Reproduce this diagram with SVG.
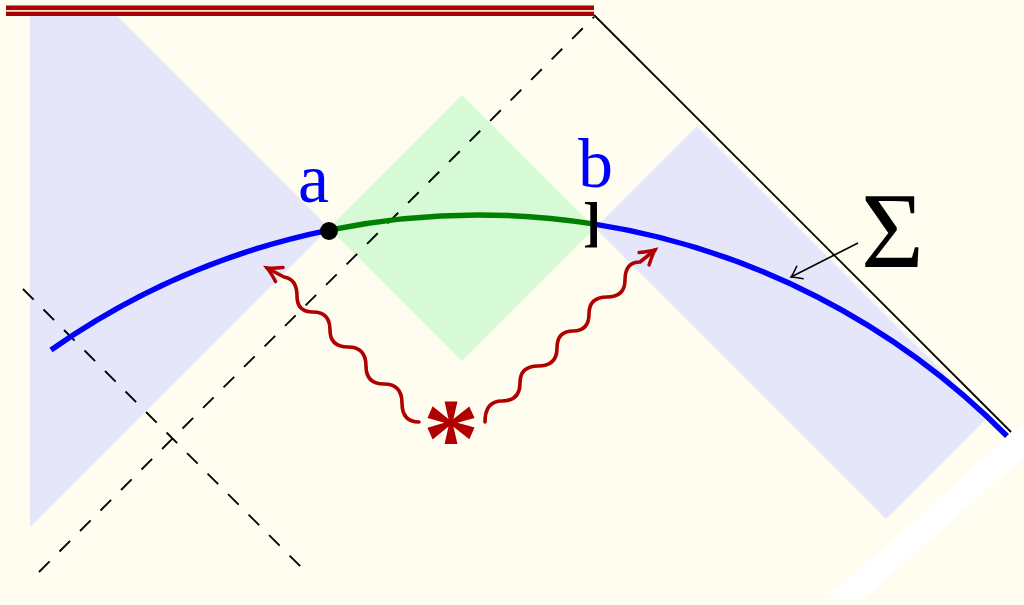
<svg xmlns="http://www.w3.org/2000/svg" width="1024" height="605" viewBox="0 0 1024 605">
<defs>
<style>
.bg{fill:#fffdf0}
.reg-blue{fill:#e6e6fa}
.reg-green{fill:#d6fad6}
.dash{stroke:#000;stroke-width:1.9;stroke-dasharray:15 14;fill:none}
.snake{fill:none;stroke:#b00000;stroke-width:3.6;stroke-linecap:round;stroke-linejoin:round}
.lbl{font-family:"Liberation Serif","Times New Roman",serif}
</style>
<marker id="redhead" markerUnits="userSpaceOnUse" markerWidth="30" markerHeight="30" viewBox="-20 -15 30 30" refX="0" refY="0" orient="auto">
<path d="M -14 -8 Q -5 -2 0 0 Q -5 2 -14 8" fill="none" stroke="#b00000" stroke-width="3.4" stroke-linecap="round"/>
</marker>
<marker id="blackhead" markerUnits="userSpaceOnUse" markerWidth="24" markerHeight="24" viewBox="-16 -12 24 24" refX="0" refY="0" orient="auto">
<path d="M -10 -7 Q -3 -1.5 0 0 Q -3 1.5 -10 7" fill="none" stroke="#000" stroke-width="1.6" stroke-linecap="round"/>
</marker>
</defs>
<rect class="bg" x="0" y="0" width="1024" height="605"/>
<g id="white-stripe"><polygon points="826,599 863,599 1024,457 1024,423" fill="#ffffff"/></g>
<g id="region-left"><polygon class="reg-blue" points="30,16 117,16 329,228 30,527"/></g>
<g id="region-right"><polygon class="reg-blue" points="595,228 697,126 988,417 886,519"/></g>
<g id="region-green"><polygon class="reg-green" points="329,228 462,95 595,228 462,361"/></g>
<g id="dashed-lines">
<line class="dash" x1="39" y1="572" x2="594" y2="17"/>
<line class="dash" x1="23" y1="289" x2="306" y2="572"/>
</g>
<g id="horizon">
<line x1="594" y1="15" x2="1011" y2="432" stroke="#000" stroke-width="1.8"/>
</g>
<g id="singularity">
<line x1="6" y1="10.8" x2="594" y2="10.8" stroke="#aa0000" stroke-width="10.5"/>
<line x1="6" y1="10.8" x2="594" y2="10.8" stroke="#f6e4df" stroke-width="1.8"/>
</g>
<g id="sigma-curve">
<path d="M 51 350 A 743.3 743.3 0 0 1 329 230.1" fill="none" stroke="#0000ff" stroke-width="5.5"/>
<path d="M 593 223.9 A 743.3 743.3 0 0 1 1007 436" fill="none" stroke="#0000ff" stroke-width="5.5"/>
<path d="M 329 230.1 A 743.3 743.3 0 0 1 593 223.9" fill="none" stroke="#008000" stroke-width="5.5"/>
</g>
<g id="point-a">
<circle cx="329" cy="231" r="9" fill="#000"/>
<text class="lbl" x="298" y="202" font-size="70" fill="#0000ff">a</text>
</g>
<g id="point-b">
<text class="lbl" x="578" y="187" font-size="70" fill="#0000ff">b</text>
<text class="lbl" x="583" y="240" font-size="54" font-weight="bold" fill="#000">]</text>
</g>
<g id="sigma-label">
<text class="lbl" x="861" y="267" font-size="108" fill="#000">Σ</text>
</g>
<g id="source">
<text x="451" y="476" font-family="Liberation Serif, serif" font-size="113" font-weight="bold" fill="#b00000" text-anchor="middle">*</text>
</g>
<g id="connectors">
<path class="snake" marker-end="url(#redhead)" d="M 419 422 Q 402 422 402 403 Q 402 384 384 384 Q 366 384 366 366 Q 366 347 348 347 Q 330 347 330 330 Q 330 312 313 312 Q 297 312 297 296 Q 297 279 284 277 L 267 268"/>
<path class="snake" marker-end="url(#redhead)" d="M 485 422 Q 485 401 502 401 Q 520 401 520 383 Q 520 366 538 366 Q 557 366 557 348 Q 557 331 573 331 Q 589 331 589 314 Q 589 297 607 297 Q 625 297 625 280 Q 625 262 640 262 L 655 250"/>
<line x1="858" y1="243" x2="791" y2="277" stroke="#000" stroke-width="1.6" marker-end="url(#blackhead)"/>
</g>
</svg>
